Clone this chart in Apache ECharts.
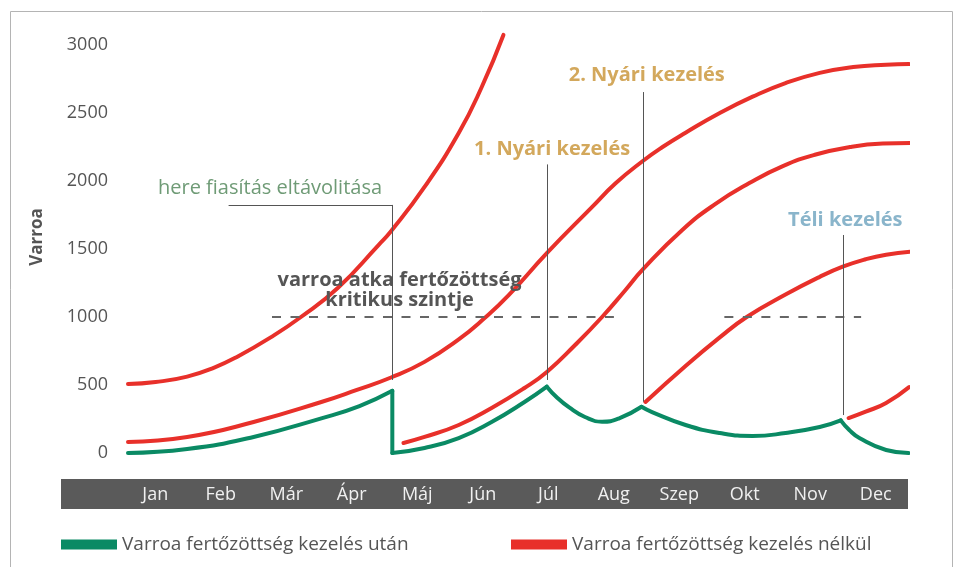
<!DOCTYPE html>
<html lang="hu">
<head>
<meta charset="UTF-8">
<title>Varroa fertőzöttség</title>
<script src="https://cdn.jsdelivr.net/npm/echarts@6/dist/echarts.min.js"></script>
<style>
  html, body { margin: 0; padding: 0; background: #fff; }
  #chart { width: 955px; height: 567px; }
</style>
</head>
<body>
<div id="chart"></div>
<script>
  // hónapok a sávon
  const months = ['Jan', 'Feb', 'Már', 'Ápr', 'Máj', 'Jún', 'Júl', 'Aug', 'Szep', 'Okt', 'Nov', 'Dec'];
  const yMin = 0, yMax = 3000, yStep = 500;

  // x = hónap (0 = január eleje), y = atkaszám
  const redSpring = [[0.08, 507], [0.5, 522], [0.98, 562], [1.4, 630], [1.75, 710], [2.25, 850], [2.71, 1000],
    [3.27, 1213], [3.89, 1529], [4.08, 1630], [4.59, 1956], [5.11, 2353], [5.46, 2691], [5.79, 3074]];
  const redNoRemoval = [[0.08, 81], [0.98, 118], [1.99, 228], [3.02, 375], [3.55, 462], [4.08, 555], [4.59, 670],
    [5.11, 835], [5.5, 990], [5.87, 1160], [6.45, 1470], [7.14, 1810], [7.5, 1985], [7.91, 2147], [8.21, 2250],
    [8.56, 2355], [9.08, 2500], [9.58, 2620], [10.08, 2720], [10.6, 2795], [11.11, 2838], [11.61, 2855], [11.96, 2860]];
  const redAfterRemoval = [[4.27, 74], [4.59, 118], [5.11, 206], [5.61, 331], [6.11, 478], [6.45, 596], [6.88, 794],
    [7.29, 1000], [7.64, 1195], [7.91, 1350], [8.51, 1640], [9.01, 1830], [9.53, 1985], [10.04, 2110], [10.54, 2195],
    [11.06, 2250], [11.56, 2275], [11.98, 2279]];
  const redAfterSummer = [[7.95, 375], [8.56, 640], [9.08, 850], [9.49, 1000], [10.08, 1165], [10.6, 1295],
    [10.95, 1370], [11.3, 1425], [11.61, 1458], [11.99, 1480]];
  const redAfterWinter = [[11.04, 257], [11.3, 304], [11.61, 368], [11.96, 485]];

  const greenTreated = [[0.08, 0], [0.98, 29], [1.99, 118], [3.02, 255], [3.6, 345], [4.1, 457], [4.1, 0],
    [4.59, 37], [5.11, 110], [5.61, 228], [6.11, 375], [6.45, 488], [6.6, 410], [6.79, 335], [7.03, 265],
    [7.29, 230], [7.55, 255], [7.89, 340], [8.05, 301], [8.56, 206], [9.08, 147], [9.58, 125], [10.08, 147],
    [10.6, 191], [10.92, 240], [11.05, 169], [11.21, 108], [11.61, 22], [11.95, 0]];
  // törésponti indexek (kezelések, fiasítás eltávolítás)
  const greenBreaks = [5, 6, 11, 17, 24];

  const criticalLevel = 1000;
  const criticalSpans = [[2.27, 7.47], [9.15, 11.23]];

  // vezetővonalak: [x, y felső, y alsó]
  const leaders = [[4.1, 1824, 537], [6.45, 2122, 537], [7.91, 2654, 377], [10.96, 1603, 279]];
  const hiveLeaderStart = 1.61;

  const notes = [
    { text: 'here fiasítás eltávolitása', at: [2.24, 1949], color: '#6f9b76', bold: false },
    { text: 'varroa atka fertőzöttség\nkritikus szintje', at: [4.21, 1195], color: '#555555', bold: true },
    { text: '1. Nyári kezelés', at: [6.53, 2235], color: '#d3a85c', bold: true },
    { text: '2. Nyári kezelés', at: [7.97, 2779], color: '#d3a85c', bold: true },
    { text: 'Téli kezelés', at: [10.99, 1713], color: '#8ab5cb', bold: true }
  ];

  const greenName = 'Varroa fertőzöttség kezelés után';
  const redName = 'Varroa fertőzöttség kezelés nélkül';
  const GREEN = '#0a8a64';
  const RED = '#e8302a';
  const FONT = '"Open Sans", "Noto Sans", sans-serif';

  function curve(name, data, color) {
    return {
      name: name,
      type: 'line',
      data: data,
      smooth: 0.5,
      symbol: 'none',
      clip: false,
      silent: true,
      z: 3,
      color: color,
      itemStyle: { color: color },
      lineStyle: { color: color, width: 4, cap: 'round', join: 'round' }
    };
  }

  const series = [];
  [redSpring, redNoRemoval, redAfterRemoval, redAfterSummer, redAfterWinter].forEach(function (d) {
    series.push(curve(redName, d, RED));
  });
  // zöld görbe darabolása a töréspontoknál
  let from = 0;
  greenBreaks.concat([greenTreated.length - 1]).forEach(function (b) {
    series.push(curve(greenName, greenTreated.slice(from, b + 1), GREEN));
    from = b;
  });

  const markLines = [];
  criticalSpans.forEach(function (s) {
    markLines.push([
      { coord: [s[0], criticalLevel], lineStyle: { color: '#666', width: 2, type: [9, 9.5] } },
      { coord: [s[1], criticalLevel] }
    ]);
  });
  leaders.forEach(function (l) {
    markLines.push([
      { coord: [l[0], l[1]], lineStyle: { color: '#555', width: 1, type: 'solid' } },
      { coord: [l[0], l[2]] }
    ]);
  });
  markLines.push([
    { coord: [hiveLeaderStart, leaders[0][1]], lineStyle: { color: '#555', width: 1, type: 'solid' } },
    { coord: [leaders[0][0], leaders[0][1]] }
  ]);

  series.push({
    name: 'notes',
    type: 'line',
    data: [],
    silent: true,
    z: 4,
    markLine: {
      silent: true,
      symbol: ['none', 'none'],
      label: { show: false },
      emphasis: { disabled: true },
      animation: false,
      data: markLines
    },
    markPoint: {
      silent: true,
      symbol: 'circle',
      symbolSize: 0,
      animation: false,
      itemStyle: { color: 'transparent' },
      data: notes.map(function (n) {
        return {
          name: n.text,
          coord: n.at,
          label: {
            show: true,
            position: 'inside',
            formatter: '{b}',
            color: n.color,
            fontFamily: FONT,
            fontSize: 20,
            fontWeight: n.bold ? 'bold' : 'normal',
            lineHeight: 20,
            align: 'center'
          }
        };
      })
    }
  });

  const legendBase = {
    top: 535,
    padding: 0,
    icon: 'rect',
    itemWidth: 56,
    itemHeight: 10,
    itemGap: 6,
    selectedMode: false,
    textStyle: { color: '#555', fontSize: 19, fontFamily: FONT }
  };

  const chart = echarts.init(document.getElementById('chart'));
  chart.setOption({
    animation: false,
    textStyle: { fontFamily: FONT },
    graphic: [{
      type: 'rect',
      silent: true,
      shape: { x: 10.5, y: 11.5, width: 942, height: 640 },
      style: { fill: 'none', stroke: '#b4b4b4', lineWidth: 1 }
    }],
    legend: [
      Object.assign({ left: 61, data: [greenName] }, legendBase),
      Object.assign({ left: 511, data: [redName] }, legendBase)
    ],
    grid: [
      { left: 61, right: 47, top: 45, bottom: 114 },
      { left: 122.5, right: 46.5, top: 45, bottom: 114 }
    ],
    xAxis: [{
      type: 'value',
      gridIndex: 0,
      min: -0.939,
      max: 11.943,
      offset: 41,
      axisLine: { show: true, onZero: false, lineStyle: { color: '#5a5a5a', width: 30, cap: 'butt' } },
      axisTick: { show: false },
      axisLabel: { show: false },
      splitLine: { show: false }
    }, {
      type: 'category',
      gridIndex: 1,
      data: months,
      axisLine: { show: false },
      axisTick: { show: false },
      axisLabel: { margin: 33, color: '#f0f0f0', fontSize: 18, fontFamily: FONT }
    }],
    yAxis: [{
      type: 'value',
      gridIndex: 0,
      min: yMin,
      max: yMax,
      interval: yStep,
      offset: -55,
      name: 'Varroa',
      nameLocation: 'middle',
      nameGap: 70,
      nameTextStyle: { color: '#555', fontSize: 17, fontWeight: 'bold', fontFamily: FONT, padding: [0, 0, 0, 24] },
      axisLine: { show: false },
      axisTick: { show: false },
      splitLine: { show: false },
      axisLabel: {
        color: '#555', fontSize: 18, fontFamily: FONT, margin: 8,
        formatter: function (v) { return String(v); }
      }
    }, {
      type: 'value',
      gridIndex: 1,
      show: false
    }],
    series: series
  });
</script>
</body>
</html>
